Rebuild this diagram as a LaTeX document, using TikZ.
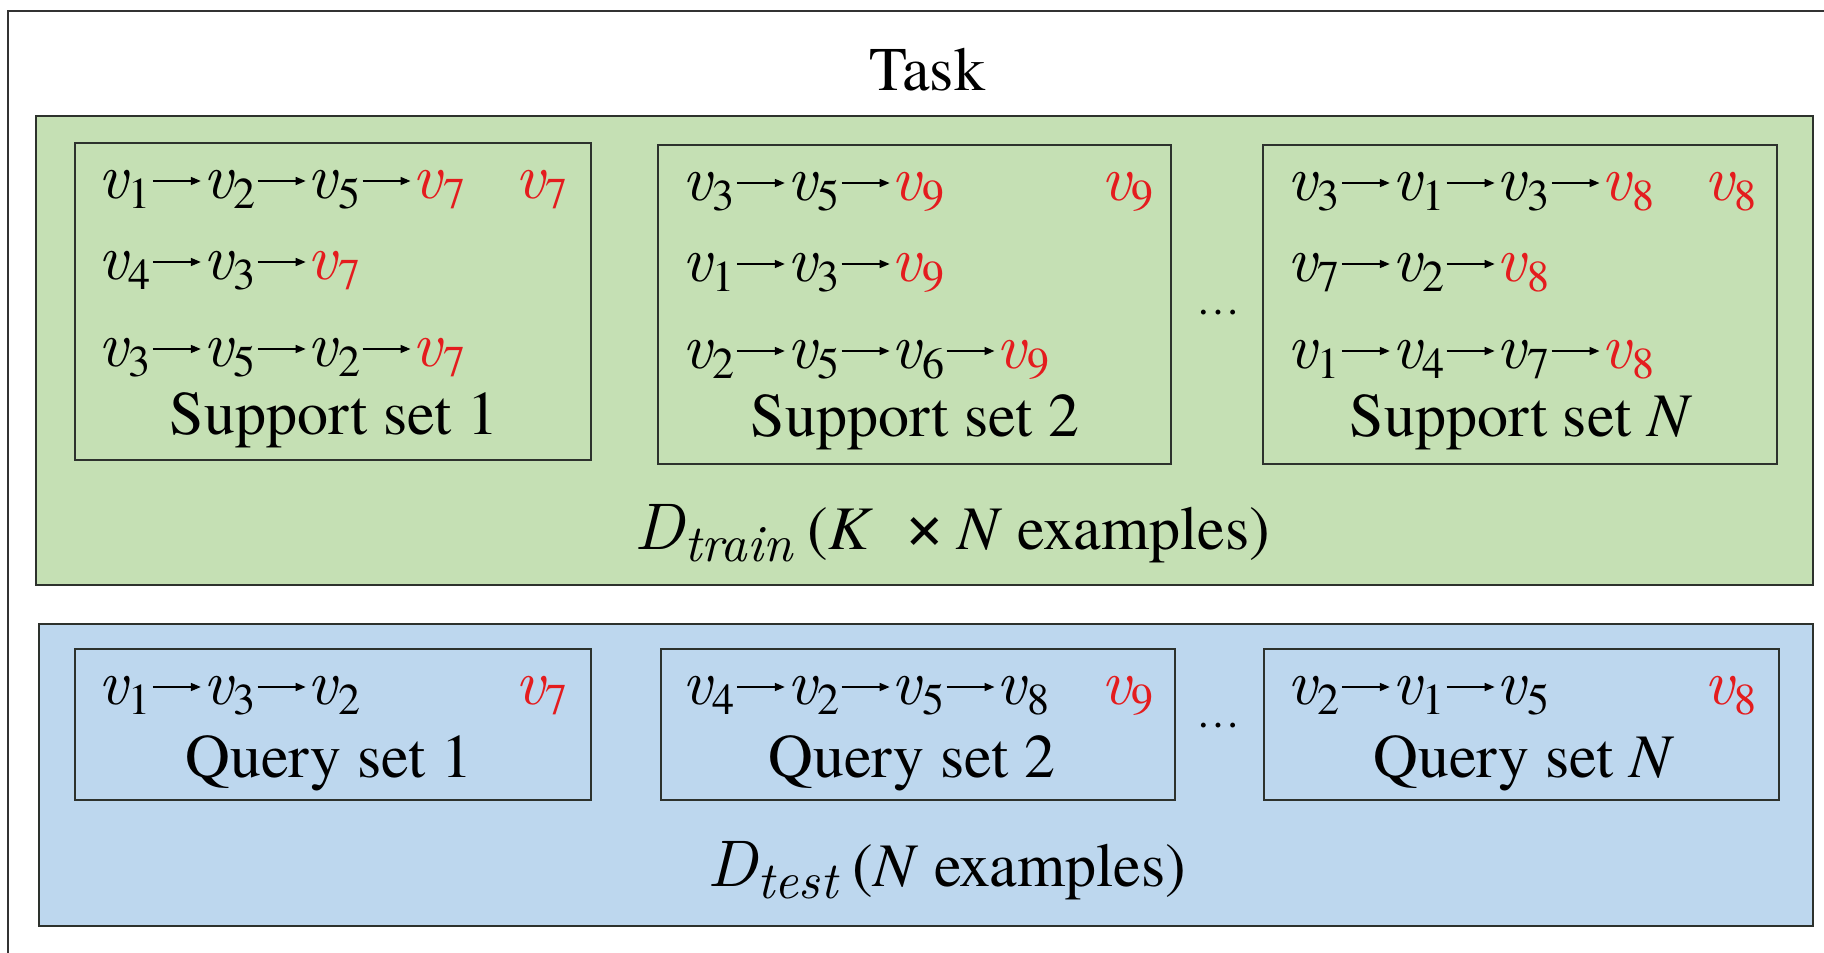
\documentclass[tikz,border=0pt]{standalone}
\usepackage{fontspec}
\setmainfont{texgyretermes-regular.otf}[ItalicFont=texgyretermes-italic.otf, BoldFont=texgyretermes-bold.otf]
\newfontfamily\lmit{lmroman10-italic.otf}
\usetikzlibrary{arrows.meta,calc}
\definecolor{gfill}{RGB}{197,224,180}
\definecolor{bfill}{RGB}{189,215,238}
\definecolor{vred}{RGB}{228,28,30}
\definecolor{edge}{RGB}{45,50,45}
\newcommand{\vv}[1]{{\lmit v}\kern1pt\raisebox{-0.16em}{\fontsize{44}{46}\selectfont #1}}
\newcommand{\rv}[1]{{\color{vred}\vv{#1}}}
\tikzset{
  box/.style={draw=edge, line width=2.2pt, anchor=north west, inner sep=0pt},
  vn/.style={inner sep=0pt, font=\fontsize{64}{68}\selectfont},
  varr/.style={line width=1.6pt, -{Triangle[length=10pt,width=8pt]}},
  lbl/.style={inner sep=0pt, anchor=base, font=\fontsize{62}{70}\selectfont},
  dotsn/.style={inner sep=0pt, anchor=base, font=\fontsize{44}{50}\selectfont},
}
\newcommand{\agap}{52}
\newcommand{\vchain}[3]{%
  \foreach \t [count=\i] in {#3}{%
    \ifnum\i=1
      \node[vn, anchor=base west] (#1-\i) at (#2) {\t};
    \else
      \pgfmathtruncatemacro\j{\i-1}%
      \node[vn, anchor=base west] (#1-\i) at ($(#1-\j.base east)+(\agap,0)$) {\t};
      \draw[varr] ($(#1-\j.base east)+(2,-17)$) -- ($(#1-\i.base west)+(-2,-17)$);
    \fi
  }}
\begin{document}
\begin{tikzpicture}[x=1pt,y=-1pt]
\useasboundingbox (0,0) rectangle (1824,953);
% outer task frame (cut by the picture edge at right and bottom)
\draw[line width=2pt, black!80] (8,953) -- (8,11) -- (1824,11);
\node[lbl] (task) at (927,90) {Task};
% big panels
\node[box, fill=gfill, minimum width=1777pt, minimum height=469pt] (train) at (35,115) {};
\node[box, fill=bfill, minimum width=1774pt, minimum height=302pt] (test) at (38,623) {};
% support sets
\node[box, minimum width=516pt, minimum height=317pt] (sup1) at (74,142) {};
\node[box, minimum width=513pt, minimum height=319pt] (sup2) at (657,144) {};
\node[box, minimum width=514pt, minimum height=319pt] (supN) at (1262,144) {};
% query sets
\node[box, minimum width=516pt, minimum height=151pt] (qry1) at (74,648) {};
\node[box, minimum width=514pt, minimum height=151pt] (qry2) at (660,648) {};
\node[box, minimum width=515pt, minimum height=151pt] (qryN) at (1263,648) {};
% support set 1
\vchain{sa}{98,198}{\vv{1},\vv{2},\vv{5},\rv{7}}
\vchain{sb}{98,279}{\vv{4},\vv{3},\rv{7}}
\vchain{sc}{98,366}{\vv{3},\vv{5},\vv{2},\rv{7}}
\node[vn, anchor=base east] (s1t) at (568,198) {\rv{7}};
\node[lbl] (s1l) at (334,434) {Support set 1};
% support set 2
\vchain{ta}{682,200}{\vv{3},\vv{5},\rv{9}}
\vchain{tb}{682,281}{\vv{1},\vv{3},\rv{9}}
\vchain{tc}{682,368}{\vv{2},\vv{5},\vv{6},\rv{9}}
\node[vn, anchor=base east] (s2t) at (1154,200) {\rv{9}};
\node[lbl] (s2l) at (915,436) {Support set 2};
% support set N
\vchain{ua}{1287,200}{\vv{3},\vv{1},\vv{3},\rv{8}}
\vchain{ub}{1287,281}{\vv{7},\vv{2},\rv{8}}
\vchain{uc}{1287,368}{\vv{1},\vv{4},\vv{7},\rv{8}}
\node[vn, anchor=base east] (sNt) at (1757,200) {\rv{8}};
\node[lbl] (sNl) at (1521,436) {Support set \textit{N}};
\node[dotsn] (sdots) at (1218,314) {…};
\node[lbl] (trainl) at (952,549) {{\fontsize{66}{70}\selectfont\lmit D}\raisebox{-0.2em}{\fontsize{52}{54}\selectfont\lmit train} (\textit{K}\hspace{0.5em}{\fontsize{72}{72}\selectfont ×}\hspace{0.2em}\textit{N} examples)};
% query sets
\vchain{qa}{98,704}{\vv{1},\vv{3},\vv{2}}
\node[vn, anchor=base east] (q1t) at (568,704) {\rv{7}};
\node[lbl] (q1l) at (329,777) {Query set 1};
\vchain{qb}{682,704}{\vv{4},\vv{2},\vv{5},\vv{8}}
\node[vn, anchor=base east] (q2t) at (1154,704) {\rv{9}};
\node[lbl] (q2l) at (912,777) {Query set 2};
\vchain{qc}{1287,704}{\vv{2},\vv{1},\vv{5}}
\node[vn, anchor=base east] (qNt) at (1757,704) {\rv{8}};
\node[lbl] (qNl) at (1524,777) {Query set \textit{N}};
\node[dotsn] (qdots) at (1218,727) {…};
\node[lbl] (testl) at (947,886) {{\fontsize{66}{70}\selectfont\lmit D}\raisebox{-0.2em}{\fontsize{52}{54}\selectfont\lmit test} (\textit{N} examples)};
\end{tikzpicture}
\end{document}
